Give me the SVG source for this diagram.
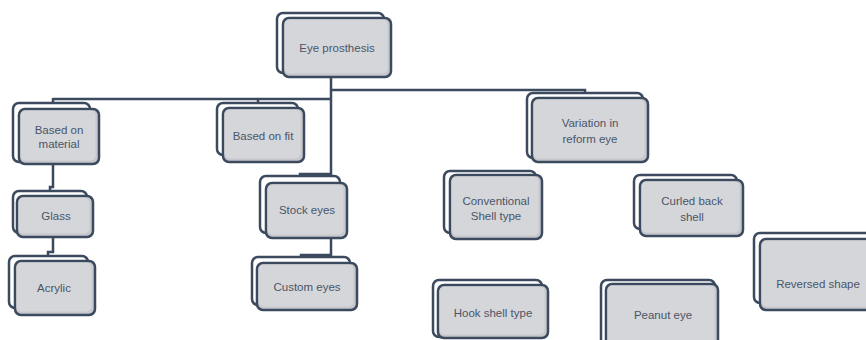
<svg xmlns="http://www.w3.org/2000/svg" width="866" height="340" viewBox="0 0 866 340">
<style>
.back{fill:#ffffff;stroke:#3b4a5e;stroke-width:2.5}
.front{fill:#c7c8cd;stroke:#3b4a5e;stroke-width:2.5}
.inner{fill:#d5d6da}
.t{font-family:"Liberation Sans",Arial,sans-serif;font-size:11.5px;fill:#4a5568;text-anchor:middle}
.c{fill:none;stroke:#3b4a5e;stroke-width:2.5}
</style>
<rect width="866" height="340" fill="#ffffff"/>
<g id="connectors">
<path class="c" d="M331,77 V174 H300 V177"/>
<path class="c" d="M331,90 H585 V94"/>
<path class="c" d="M53,99 H331"/>
<path class="c" d="M53,98 V104"/>
<path class="c" d="M258,99 V104"/>
<path class="c" d="M53,164 V187 H50 V192"/>
<path class="c" d="M53,237 V252 H48 V257"/>
<path class="c" d="M331,238 V255 H301 V258"/>
</g>
<g id="n-eye">
<rect class="back" x="277" y="13" width="107" height="60" rx="6"/>
<rect class="front" x="283" y="18" width="108" height="59" rx="6"/>
<rect class="inner" x="284.5" y="19.5" width="103" height="54" rx="5"/>
<text class="t" x="337" y="52">Eye prosthesis</text>
</g>
<g id="n-material">
<rect class="back" x="13" y="103" width="77" height="59" rx="6"/>
<rect class="front" x="19" y="109" width="80" height="55" rx="6"/>
<rect class="inner" x="20.5" y="110.5" width="75" height="50" rx="5"/>
<text class="t" x="59" y="134">Based on</text>
<text class="t" x="59" y="148">material</text>
</g>
<g id="n-fit">
<rect class="back" x="217" y="103" width="81" height="52" rx="6"/>
<rect class="front" x="223" y="108" width="81" height="54" rx="6"/>
<rect class="inner" x="224.5" y="109.5" width="76" height="49" rx="5"/>
<text class="t" x="263" y="140">Based on fit</text>
</g>
<g id="n-variation">
<rect class="back" x="527" y="93" width="116" height="65" rx="6"/>
<rect class="front" x="532" y="98" width="116" height="64" rx="6"/>
<rect class="inner" x="533.5" y="99.5" width="111" height="59" rx="5"/>
<text class="t" x="590" y="127">Variation in</text>
<text class="t" x="590" y="143">reform eye</text>
</g>
<g id="n-glass">
<rect class="back" x="13" y="191" width="74" height="42" rx="6"/>
<rect class="front" x="17" y="196" width="76" height="41" rx="6"/>
<rect class="inner" x="18.5" y="197.5" width="71" height="36" rx="5"/>
<text class="t" x="56" y="220">Glass</text>
</g>
<g id="n-acrylic">
<rect class="back" x="9" y="256" width="79" height="52" rx="6"/>
<rect class="front" x="15" y="261" width="80" height="54" rx="6"/>
<rect class="inner" x="16.5" y="262.5" width="75" height="49" rx="5"/>
<text class="t" x="54" y="292">Acrylic</text>
</g>
<g id="n-stock">
<rect class="back" x="260" y="176" width="80" height="57" rx="6"/>
<rect class="front" x="266" y="183" width="81" height="55" rx="6"/>
<rect class="inner" x="267.5" y="184.5" width="76" height="50" rx="5"/>
<text class="t" x="307" y="214">Stock eyes</text>
</g>
<g id="n-custom">
<rect class="back" x="252" y="257" width="98" height="48" rx="6"/>
<rect class="front" x="257" y="263" width="100" height="47" rx="6"/>
<rect class="inner" x="258.5" y="264.5" width="95" height="42" rx="5"/>
<text class="t" x="307" y="291">Custom eyes</text>
</g>
<g id="n-conventional">
<rect class="back" x="444" y="171" width="92" height="62" rx="6"/>
<rect class="front" x="450" y="175" width="92" height="64" rx="6"/>
<rect class="inner" x="451.5" y="176.5" width="87" height="59" rx="5"/>
<text class="t" x="496" y="205">Conventional</text>
<text class="t" x="496" y="220">Shell type</text>
</g>
<g id="n-curled">
<rect class="back" x="634" y="175" width="103" height="54" rx="6"/>
<rect class="front" x="640" y="180" width="103" height="56" rx="6"/>
<rect class="inner" x="641.5" y="181.5" width="98" height="51" rx="5"/>
<text class="t" x="692" y="205">Curled back</text>
<text class="t" x="692" y="221">shell</text>
</g>
<g id="n-hook">
<rect class="back" x="433" y="280" width="109" height="57" rx="6"/>
<rect class="front" x="438" y="285" width="110" height="53" rx="6"/>
<rect class="inner" x="439.5" y="286.5" width="105" height="48" rx="5"/>
<text class="t" x="493" y="317">Hook shell type</text>
</g>
<g id="n-peanut">
<rect class="back" x="601" y="280" width="114" height="70" rx="6"/>
<rect class="front" x="606" y="284" width="112" height="66" rx="6"/>
<rect class="inner" x="607.5" y="285.5" width="107" height="61" rx="5"/>
<text class="t" x="663" y="319">Peanut eye</text>
</g>
<g id="n-reversed">
<rect class="back" x="754" y="233" width="120" height="70" rx="6"/>
<rect class="front" x="760" y="239" width="120" height="71" rx="6"/>
<rect class="inner" x="761.5" y="240.5" width="115" height="66" rx="5"/>
<text class="t" x="818" y="288">Reversed shape</text>
</g>
</svg>
